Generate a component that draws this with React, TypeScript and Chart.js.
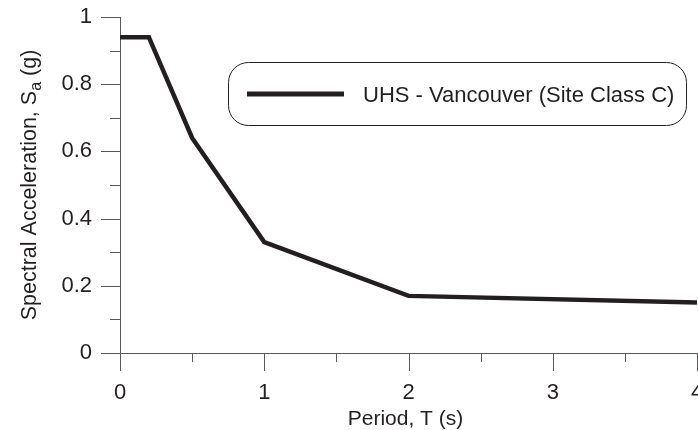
import React, { useEffect, useRef } from "react";
import { Chart, registerables } from "chart.js";
Chart.register(...registerables);

const periods = [0, 0.2, 0.5, 1, 2, 4];
const spectralAccel = [0.94, 0.94, 0.64, 0.33, 0.17, 0.15];
const seriesLabel = "UHS - Vancouver (Site Class C)";
const xTitle = "Period, T (s)";
const yTitleMain = "Spectral Acceleration, S";
const yTitleSub = "a";
const yTitleEnd = " (g)";

const INK = "#231f20";
const AXIS = "#58595b";
const FONT = "'Liberation Sans', Arial, sans-serif";

const decorPlugin = {
  id: "decor",
  afterDraw(chart: any) {
    const ctx = chart.ctx;
    const xs = chart.scales.x;
    const ys = chart.scales.y;
    const area = chart.chartArea;
    ctx.save();
    // ticks
    ctx.strokeStyle = AXIS;
    ctx.lineWidth = 1;
    ctx.beginPath();
    for (let i = 0; i <= 10; i++) {
      const v = i / 10;
      const y = Math.round(ys.getPixelForValue(v)) + 0.5;
      const len = i % 2 === 0 ? 19 : 10;
      ctx.moveTo(area.left - len, y);
      ctx.lineTo(area.left, y);
    }
    for (let i = 0; i <= 8; i++) {
      const v = i / 2;
      const x = Math.round(xs.getPixelForValue(v)) + 0.5;
      const len = i % 2 === 0 ? 18 : 9;
      ctx.moveTo(x, area.bottom);
      ctx.lineTo(x, area.bottom + len);
    }
    ctx.stroke();

    // x title
    ctx.fillStyle = INK;
    ctx.font = `21px ${FONT}`;
    ctx.textAlign = "center";
    ctx.textBaseline = "alphabetic";
    ctx.fillText(xTitle, (area.left + area.right) / 2 - 3, 425);

    // y title with subscript
    ctx.translate(36, (area.top + area.bottom) / 2);
    ctx.rotate(-Math.PI / 2);
    const mainFont = `21.5px ${FONT}`;
    const subFont = `16px ${FONT}`;
    ctx.font = mainFont;
    const w1 = ctx.measureText(yTitleMain).width;
    const w3 = ctx.measureText(yTitleEnd).width;
    ctx.font = subFont;
    const w2 = ctx.measureText(yTitleSub).width;
    let sx = -(w1 + w2 + w3) / 2;
    ctx.textAlign = "left";
    ctx.textBaseline = "alphabetic";
    ctx.font = mainFont;
    ctx.fillText(yTitleMain, sx, 0);
    sx += w1;
    ctx.font = subFont;
    ctx.fillText(yTitleSub, sx, 5);
    sx += w2;
    ctx.font = mainFont;
    ctx.fillText(yTitleEnd, sx, 0);
    ctx.restore();

    // legend box
    ctx.save();
    const bx = 228, by = 62, bw = 458, bh = 63, r = 20;
    ctx.strokeStyle = INK;
    ctx.lineWidth = 1;
    ctx.fillStyle = "#ffffff";
    ctx.beginPath();
    ctx.roundRect(bx + 0.5, by + 0.5, bw, bh, r);
    ctx.fill();
    ctx.stroke();
    ctx.strokeStyle = INK;
    ctx.lineWidth = 5;
    ctx.beginPath();
    ctx.moveTo(247, 94);
    ctx.lineTo(344, 94);
    ctx.stroke();
    ctx.fillStyle = INK;
    ctx.font = `22px ${FONT}`;
    ctx.textAlign = "left";
    ctx.textBaseline = "alphabetic";
    ctx.fillText(seriesLabel, 363, 102);
    ctx.restore();
  },
};

export default function App() {
  const ref = useRef<HTMLCanvasElement | null>(null);
  useEffect(() => {
    if (!ref.current) return;
    const chart = new Chart(ref.current, {
      type: "line",
      data: {
        datasets: [
          {
            label: seriesLabel,
            data: periods.map((p, i) => ({ x: p, y: spectralAccel[i] })),
            borderColor: INK,
            borderWidth: 4.5,
            pointRadius: 0,
            fill: false,
            tension: 0,
            borderJoinStyle: "miter",
          },
        ],
      },
      options: {
        animation: false,
        responsive: false,
        maintainAspectRatio: false,
        layout: { padding: { left: 0, right: 1, top: 17, bottom: 0 } },
        plugins: { legend: { display: false }, tooltip: { enabled: false } },
        scales: {
          x: {
            type: "linear",
            min: 0,
            max: 4,
            grid: { display: false, drawTicks: false },
            border: { display: true, color: AXIS, width: 1 },
            ticks: {
              stepSize: 1,
              padding: 27,
              color: INK,
              font: { size: 22, family: FONT },
              maxRotation: 0,
              autoSkip: false,
              callback: (v: any) => String(v),
            },
            afterFit: (s: any) => {
              s.height = 77;
              s.paddingLeft = 0;
              s.paddingRight = 0;
            },
          },
          y: {
            type: "linear",
            min: 0,
            max: 1,
            grid: { display: false, drawTicks: false },
            border: { display: true, color: AXIS, width: 1 },
            ticks: {
              stepSize: 0.2,
              padding: 28,
              color: INK,
              font: { size: 22, family: FONT },
              autoSkip: false,
              callback: (v: any) => String(Number(Number(v).toFixed(1))),
            },
            afterFit: (s: any) => {
              s.width = 120;
              s.paddingTop = 0;
              s.paddingBottom = 0;
            },
          },
        },
      },
      plugins: [decorPlugin],
    });
    return () => chart.destroy();
  }, []);
  return (
    <div style={{ position: "fixed", left: 0, top: 0, width: 698, height: 430, background: "#fff" }}>
      <canvas ref={ref} width={698} height={430} style={{ width: 698, height: 430 }} />
    </div>
  );
}
